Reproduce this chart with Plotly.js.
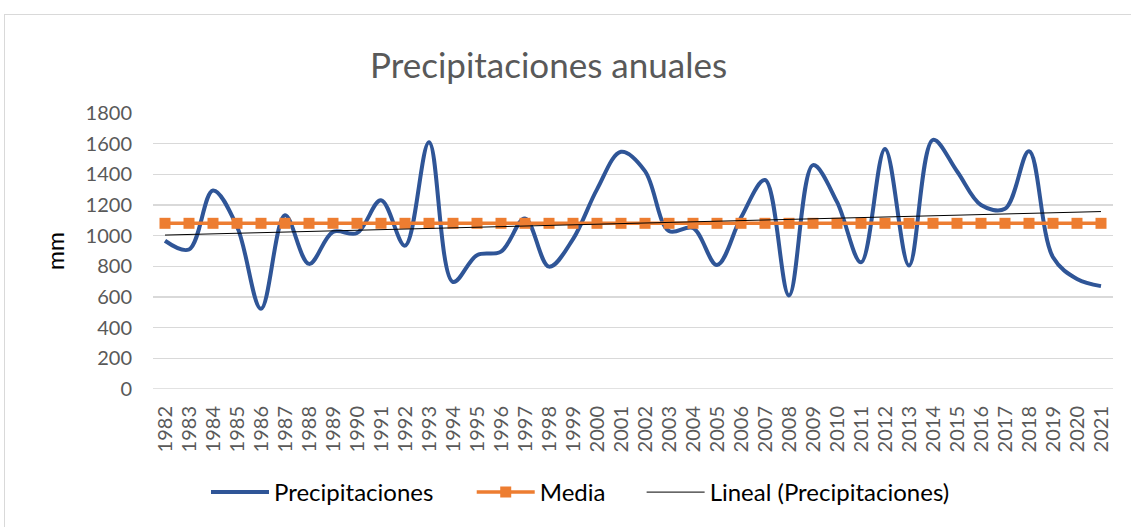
<!DOCTYPE html>
<html>
<head>
<meta charset="utf-8">
<script src="https://cdn.plot.ly/plotly-3.0.1.min.js"></script>
<style>
  html, body { margin: 0; padding: 0; background: #ffffff; }
  #frame { position: absolute; left: 4px; top: 14px; width: 1200px; height: 600px; border: 1px solid #d9d9d9; box-sizing: border-box; }
  #chart { position: absolute; left: 0; top: 0; width: 1131px; height: 527px; }
</style>
</head>
<body>
<div id="frame"></div>
<div id="chart"></div>
<script>
const years = ["1982","1983","1984","1985","1986","1987","1988","1989","1990","1991",
               "1992","1993","1994","1995","1996","1997","1998","1999","2000","2001",
               "2002","2003","2004","2005","2006","2007","2008","2009","2010","2011",
               "2012","2013","2014","2015","2016","2017","2018","2019","2020","2021"];
const precipitaciones = [967, 910, 1295, 1060, 523, 1133, 816, 1025, 1017, 1231,
                         935, 1610, 698, 873, 896, 1112, 798, 978, 1302, 1547,
                         1421, 1030, 1050, 809, 1118, 1363, 610, 1460, 1220, 826,
                         1566, 805, 1625, 1420, 1200, 1175, 1551, 859, 718, 671];
const tickVals = [0, 200, 400, 600, 800, 1000, 1200, 1400, 1600, 1800];

// Media: mean of the series
const mean = precipitaciones.reduce((a, b) => a + b, 0) / precipitaciones.length;
const media = precipitaciones.map(() => mean);

// Lineal (Precipitaciones): least-squares trend
const n = precipitaciones.length;
const idx = precipitaciones.map((_, i) => i + 1);
const mx = idx.reduce((a, b) => a + b, 0) / n;
let sxy = 0, sxx = 0;
for (let i = 0; i < n; i++) { sxy += (idx[i] - mx) * (precipitaciones[i] - mean); sxx += (idx[i] - mx) ** 2; }
const slope = sxy / sxx;
const intercept = mean - slope * mx;
const lineal = idx.map(i => intercept + slope * i);

const FONT = "Lato, 'Open Sans', sans-serif";

const traces = [
  { x: years, y: precipitaciones, type: 'scatter', mode: 'lines', name: 'Precipitaciones',
    line: { color: '#2F5597', width: 4, shape: 'spline', smoothing: 1 }, legend: 'legend' },
  { x: years, y: media, type: 'scatter', mode: 'lines+markers', name: 'Media',
    line: { color: '#ED7D31', width: 3.5 }, marker: { symbol: 'square', size: 11, color: '#ED7D31' }, legend: 'legend2' },
  { x: years, y: lineal, type: 'scatter', mode: 'lines', name: 'Lineal (Precipitaciones)',
    line: { color: '#000000', width: 1 }, legend: 'legend3' }
];

const legendBase = { orientation: 'h', yanchor: 'middle', y: -0.375, xanchor: 'left', itemwidth: 58,
  font: { family: FONT, size: 24, color: '#000000' }, bgcolor: 'rgba(0,0,0,0)' };

const layout = {
  width: 1131, height: 527,
  margin: { l: 153, r: 18, t: 113, b: 136 },
  paper_bgcolor: 'rgba(0,0,0,0)', plot_bgcolor: 'rgba(0,0,0,0)',
  title: { text: 'Precipitaciones anuales', x: 0.485, xanchor: 'center', y: 0.875, yanchor: 'middle',
           font: { family: FONT, size: 35, color: '#595959' } },
  xaxis: { type: 'category', range: [-0.5, 39.5], tickangle: -90, showgrid: false, zeroline: false,
           ticks: '', ticklabelstandoff: 12,
           tickfont: { family: FONT, size: 20, color: '#595959' },
           showline: false },
  yaxis: { range: [0, 1800], tickvals: tickVals, ticktext: tickVals.map(String),
           showgrid: true, gridcolor: '#d9d9d9', gridwidth: 1.5, zeroline: false,
           ticks: '', ticklabelstandoff: 20,
           tickfont: { family: FONT, size: 20, color: '#595959' },
           title: { text: 'mm', standoff: 14, font: { family: FONT, size: 23, color: '#000000' } } },
  showlegend: true,
  legend: Object.assign({}, legendBase, { x: 0.0552 }),
  legend2: Object.assign({}, legendBase, { x: 0.332 }),
  legend3: Object.assign({}, legendBase, { x: 0.509 }),
  shapes: [
    { type: 'line', xref: 'paper', yref: 'y', x0: 0, x1: 1, y0: 0, y1: 0, line: { color: '#d9d9d9', width: 1.5 }, layer: 'below' }
  ]
};

Plotly.newPlot('chart', traces, layout, { displayModeBar: false, staticPlot: true });
</script>
</body>
</html>
